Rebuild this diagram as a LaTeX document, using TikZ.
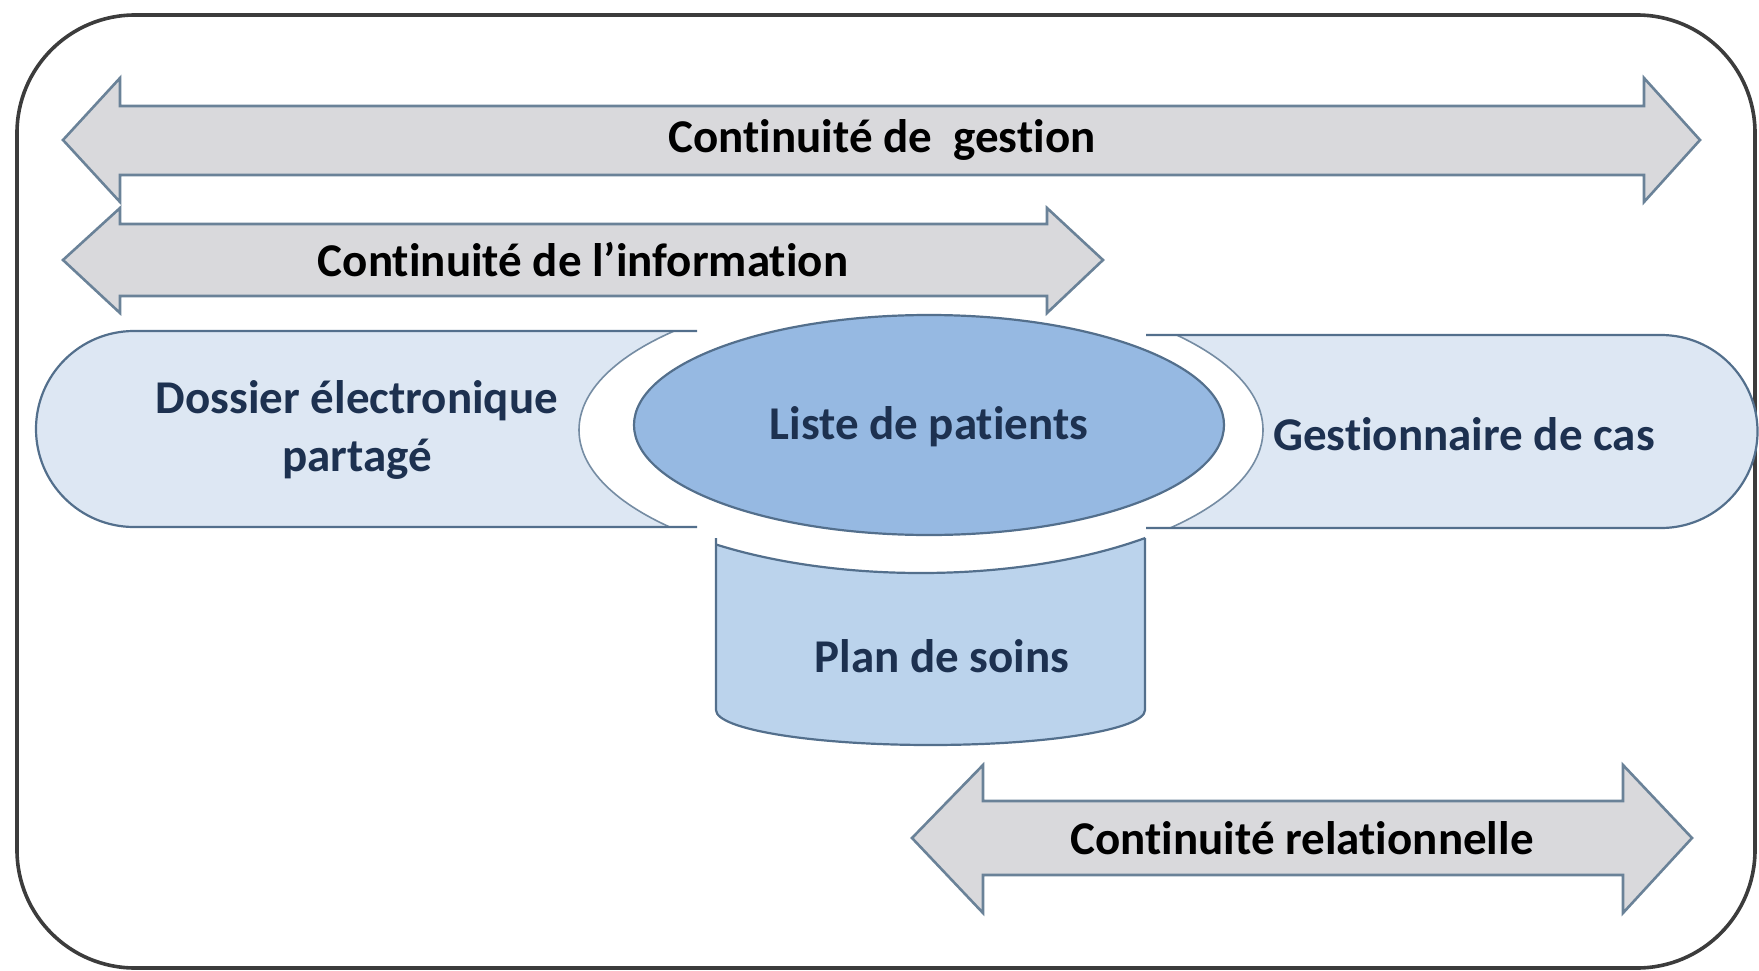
\documentclass[tikz,border=0pt]{standalone}
\usepackage{fontspec}
\setmainfont{Carlito}[Ligatures=NoCommon]
\usetikzlibrary{shapes.geometric}

\definecolor{framegray}{HTML}{3C3C3C}
\definecolor{arrowfill}{HTML}{D9D9DC}
\definecolor{arrowline}{HTML}{6A8298}
\definecolor{pillfill}{HTML}{DDE7F3}
\definecolor{cylfill}{HTML}{BBD3EC}
\definecolor{ellfill}{HTML}{96B9E2}
\definecolor{shapeline}{HTML}{536F8C}
\definecolor{navytext}{HTML}{1D3150}

% double-headed block arrow: tipL, baseL, baseR, tipR, mid y, head top, head bottom, shaft top, shaft bottom
\newcommand\contarrow[9]{%
  \filldraw[blockarrow] (#1,#5) -- (#2,#6) -- (#2,#8) -- (#3,#8) -- (#3,#6) -- (#4,#5)
    -- (#3,#7) -- (#3,#9) -- (#2,#9) -- (#2,#7) -- cycle;}

\begin{document}
\begin{tikzpicture}[x=1pt,y=-1pt,
  blockarrow/.style={fill=arrowfill, draw=arrowline, line width=2.6pt, line join=miter},
  arrowlabel/.style={font=\fontsize{47}{56}\selectfont\bfseries, text=black, inner sep=0pt},
  boxlabel/.style={font=\fontsize{47}{58}\selectfont\bfseries, text=navytext, inner sep=0pt, align=center},
  shapeborder/.style={draw=shapeline, line width=2.2pt},
  halo/.style={draw=shapeline!80, line width=1.6pt}]
\useasboundingbox (0,0) rectangle (1759,971);

% outer frame
\draw[framegray, line width=3.6pt, rounded corners=118pt] (17,15) rectangle (1755,968);

% pills and cylinder
\fill[pillfill] (697,331) -- (134,331) arc[start angle=90, end angle=270, radius=98pt] -- (697,527) -- cycle;
\fill[pillfill] (1146,335) -- (1661,335) arc[start angle=90, end angle=-90, radius=96.5pt] -- (1146,528) -- cycle;
\fill[cylfill] (716,480) -- (716,710) arc[start angle=180, end angle=360, x radius=214.5pt, y radius=35pt] -- (1145,480) -- cycle;

% white halo around the patient list
\fill[white] (921,430) ellipse[x radius=342pt, y radius=143pt];
\begin{scope}
  \clip (697,331) -- (134,331) arc[start angle=90, end angle=270, radius=98pt] -- (697,527) -- cycle;
  \draw[halo] (921,430) ellipse[x radius=342pt, y radius=143pt];
\end{scope}
\begin{scope}
  \clip (1146,335) -- (1661,335) arc[start angle=90, end angle=-90, radius=96.5pt] -- (1146,528) -- cycle;
  \draw[halo] (921,430) ellipse[x radius=342pt, y radius=143pt];
\end{scope}
\begin{scope}
  \clip (716,480) -- (716,710) arc[start angle=180, end angle=360, x radius=214.5pt, y radius=35pt] -- (1145,480) -- cycle;
  \draw[shapeborder] (921,430) ellipse[x radius=342pt, y radius=143pt];
\end{scope}

% outlines of pills and cylinder
\draw[shapeborder] (697,331) -- (134,331) arc[start angle=90, end angle=270, radius=98pt] -- (697,527);
\draw[shapeborder] (1146,335) -- (1661,335) arc[start angle=90, end angle=-90, radius=96.5pt] -- (1146,528);
\draw[shapeborder] (716,538) -- (716,710) arc[start angle=180, end angle=360, x radius=214.5pt, y radius=35pt] -- (1145,538);

% continuity arrows
\contarrow{63}{120}{1644}{1700}{140}{78}{202}{106}{175}
\node[arrowlabel] (gestion) at (882,140) {Continuité de\ \ gestion};

\contarrow{63}{120}{1047}{1103}{260}{208}{313}{224}{296}
\node[arrowlabel] (information) at (583,260) {Continuité de l’information};

\contarrow{912}{983}{1623}{1692}{838}{765}{913}{801}{875}
\node[arrowlabel] (relation) at (1302,838) {Continuité relationnelle};

% patient list
\node[ellipse, shapeborder, fill=ellfill, minimum width=590pt, minimum height=220pt, inner sep=0pt] (liste) at (929,425) {};
\node[boxlabel] (listelabel) at (929,427) {Liste de patients};

\node[boxlabel] (dossier) at (357,430) {Dossier électronique\\partagé};
\node[boxlabel] (gestionnaire) at (1464,434) {Gestionnaire de cas};
\node[boxlabel] (plan) at (942,656) {Plan de soins};
\end{tikzpicture}
\end{document}
